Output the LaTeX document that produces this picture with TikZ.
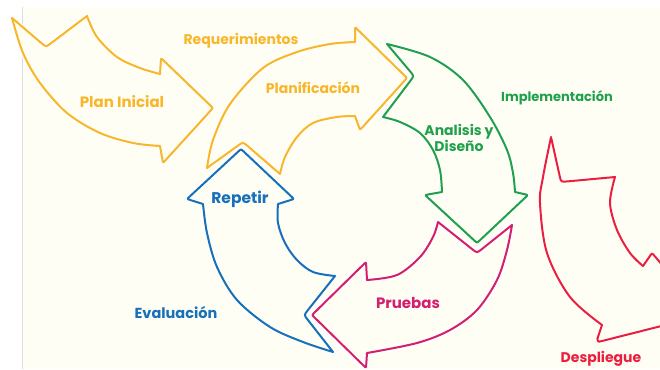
\documentclass[tikz,border=0pt]{standalone}
\usepackage{fontspec}
\usetikzlibrary{calc}
\setmainfont{Poppins}
\definecolor{cream}{RGB}{255,254,244}
\definecolor{rulegrey}{RGB}{222,222,222}
\definecolor{yel}{RGB}{248,182,42}
\definecolor{grn}{RGB}{32,160,76}
\definecolor{blu}{RGB}{22,112,186}
\definecolor{mag}{RGB}{212,30,112}
\definecolor{rd}{RGB}{236,30,62}
\begin{document}
\begin{tikzpicture}[x=1pt,y=-1pt,
  lbl/.style={font=\bfseries\fontsize{#1}{\dimexpr #1pt*6/5\relax}\selectfont, align=center, inner sep=0pt},
  lbl/.default=14,
  arrowshape/.style={line width=2pt, line join=round, fill=cream,
    preaction={draw=white, line width=4.5pt}},
  sm/.style={smooth, tension=0.55},
  % rounded corner at #2, coming from #1 and leaving towards #3
  rc/.style n args={3}{insert path={-- ($(#2)!3.5pt!(#1)$) .. controls (#2) .. ($(#2)!3.5pt!(#3)$)}},
  rcb/.style n args={3}{insert path={-- ($(#2)!6pt!(#1)$) .. controls (#2) .. ($(#2)!6pt!(#3)$)}}]
\useasboundingbox (0,0) rectangle (660,369);
\clip (0,0) rectangle (660,369);
\fill[white] (0,0) rectangle (660,369);
\fill[cream] (22,7) rectangle (660,369);
\draw[rulegrey, line width=1pt] (22.5,7) -- (22.5,369);

% Plan Inicial
\draw[arrowshape, draw=yel] (12,18) [rcb={12,18}{46,47}{87,16}] -- (87,16)
  -- plot[sm] coordinates {(87,16) (97,37) (117,57) (140,68) (160,74)}
  [rc={160,74}{161,58}{213,108}] [rc={161,58}{213,108}{163,163}] [rc={213,108}{163,163}{160,146}] -- (160,146)
  -- plot[sm] coordinates {(160,146) (133,143) (100,133) (67,113) (40,83) (23,53) (12,18)} -- cycle;

% Planificacion
\draw[arrowshape, draw=yel] (207,168)
  -- plot[sm] coordinates {(207,168) (213,140) (230,104) (263,68) (297,52) (330,44) (355,42)}
  [rc={355,42}{355,27}{407,78}] [rc={355,27}{407,78}{360,130}] [rc={407,78}{360,130}{355,116}] -- (355,116)
  -- plot[sm] coordinates {(355,116) (337,117) (313,123) (297,137) (285,157) (280,174)}
  [rcb={280,174}{243,142}{207,168}] -- cycle;

% Analisis y Diseno
\draw[arrowshape, draw=grn] (387,44)
  -- plot[sm] coordinates {(387,44) (430,57) (463,80) (490,117) (507,150) (513,173) (515,192)}
  [rc={515,192}{528,195}{477,243}] [rc={528,195}{477,243}{425,195}] [rc={477,243}{425,195}{442,192}] -- (442,192)
  -- plot[sm] coordinates {(442,192) (440,170) (433,150) (420,133) (400,122) (383,117)}
  [rcb={383,117}{414,76}{387,44}] -- cycle;

% Pruebas
\draw[arrowshape, draw=mag] (512,225)
  -- plot[sm] coordinates {(512,225) (507,250) (497,280) (477,310) (450,330) (417,343) (367,353)}
  [rc={367,353}{366,368}{312,315}] [rc={366,368}{312,315}{366,262}] [rc={312,315}{366,262}{367,280}] -- (367,280)
  -- plot[sm] coordinates {(367,280) (397,275) (420,257) (433,237) (438,222)}
  [rcb={438,222}{477,253}{512,225}] -- cycle;

% Repetir
\draw[arrowshape, draw=blu] (203,204)
  [rc={203,204}{187,199}{241,149}] [rc={187,199}{241,149}{294,199}] [rc={241,149}{294,199}{278,204}] -- (278,204)
  -- plot[sm] coordinates {(278,204) (278,223) (285,243) (297,260) (313,272) (335,276)}
  [rcb={335,276}{304,315}{333,352}] -- (333,352)
  -- plot[sm] coordinates {(333,352) (303,342) (270,327) (237,300) (217,267) (207,233) (203,204)} -- cycle;

% Despliegue
\draw[arrowshape, draw=rd] (551,137)
  [rcb={551,137}{561,182}{615,177}] -- (615,177)
  -- plot[sm] coordinates {(615,177) (610,203) (617,230) (630,253) (643,266)}
  [rc={643,266}{652,253}{705,315}] -- (705,315) [rc={705,315}{598,342}{597,336}] -- (602,325)
  -- plot[sm] coordinates {(602,325) (570,297) (547,253) (540,203) (543,177) (551,137)} -- cycle;

% labels
\node[lbl=14, text=yel] (req) at (241,41) {Requerimientos};
\node[lbl=15, text=yel] (plan) at (122,102) {Plan Inicial};
\node[lbl=14, text=yel] (planif) at (313,88) {Planificación};
\node[lbl=14, text=grn] (anal) at (459,138) {Analisis y\\Diseño};
\node[lbl=13, text=grn] (impl) at (557,98) {Implementación};
\node[lbl=15.5, text=blu] (rep) at (240,199) {Repetir};
\node[lbl=14.5, text=blu] (eval) at (176,313) {Evaluación};
\node[lbl=15, text=mag] (prue) at (408,303) {Pruebas};
\node[lbl=14, text=rd] (desp) at (601,359) {Despliegue};
\end{tikzpicture}
\end{document}
